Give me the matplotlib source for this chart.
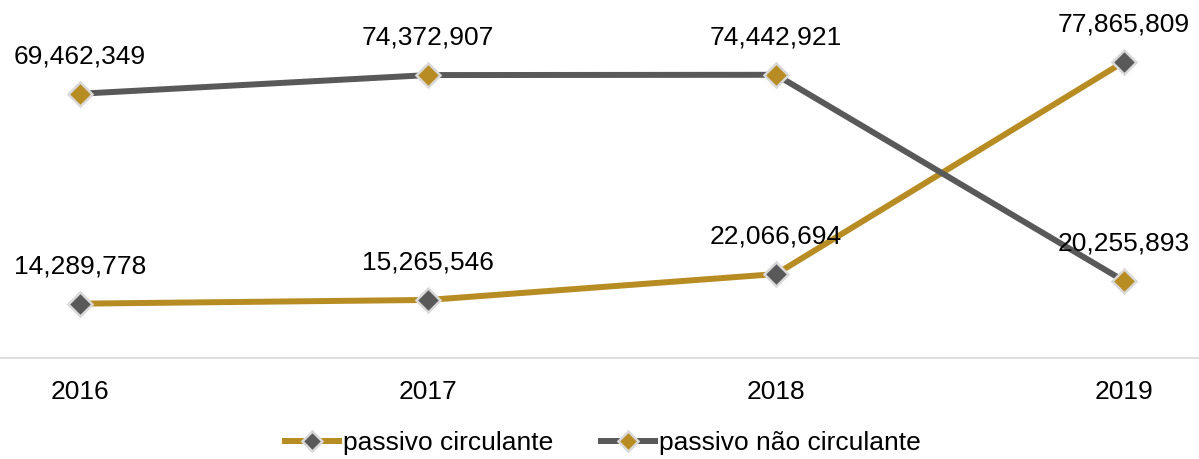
import matplotlib
matplotlib.use("Agg")
import matplotlib.pyplot as plt

years = ["2016", "2017", "2018", "2019"]
passivo_circulante = [14289778, 15265546, 22066694, 77865809]
passivo_nao_circulante = [69462349, 74372907, 74442921, 20255893]

plt.rcParams['font.family'] = ['Liberation Sans', 'DejaVu Sans']

gold = "#B78C22"
gray = "#595959"
edge = "#D9D9D9"
fs = 19

fig = plt.figure(figsize=(11.99, 4.59), dpi=100)
ax = fig.add_axes([0.0, 0.22, 1.0, 0.746])
x = list(range(len(years)))

ax.plot(x, passivo_circulante, color=gold, lw=4.3, marker="D", ms=12.5,
        mfc=gray, mec=edge, mew=1.8, label="passivo circulante", zorder=3)
ax.plot(x, passivo_nao_circulante, color=gray, lw=4.3, marker="D", ms=12.5,
        mfc=gold, mec=edge, mew=1.8, label="passivo não circulante", zorder=3)

for series in (passivo_circulante, passivo_nao_circulante):
    for xi, v in zip(x, series):
        ax.annotate(f"{v:,}", (xi, v), xytext=(0, 27), textcoords="offset points",
                    ha="center", va="center", fontsize=fs, color="#000000")

ax.set_xlim(-80/348, (1199-80)/348)
ax.set_ylim(0, 90e6)
ax.set_xticks(x)
ax.set_xticklabels(years, fontsize=fs)
ax.tick_params(axis="x", length=0, pad=16)
ax.set_yticks([])
for s in ("top", "right", "left"):
    ax.spines[s].set_visible(False)
ax.spines["bottom"].set_color("#D9D9D9")
ax.spines["bottom"].set_linewidth(1.2)

leg = fig.legend(loc="center", bbox_to_anchor=(0.503, 0.035), ncol=2, frameon=False,
                 fontsize=fs, handlelength=2.05, handletextpad=0.15, columnspacing=1.8,
                 markerscale=0.8)

fig.savefig("out.png", dpi=100)
